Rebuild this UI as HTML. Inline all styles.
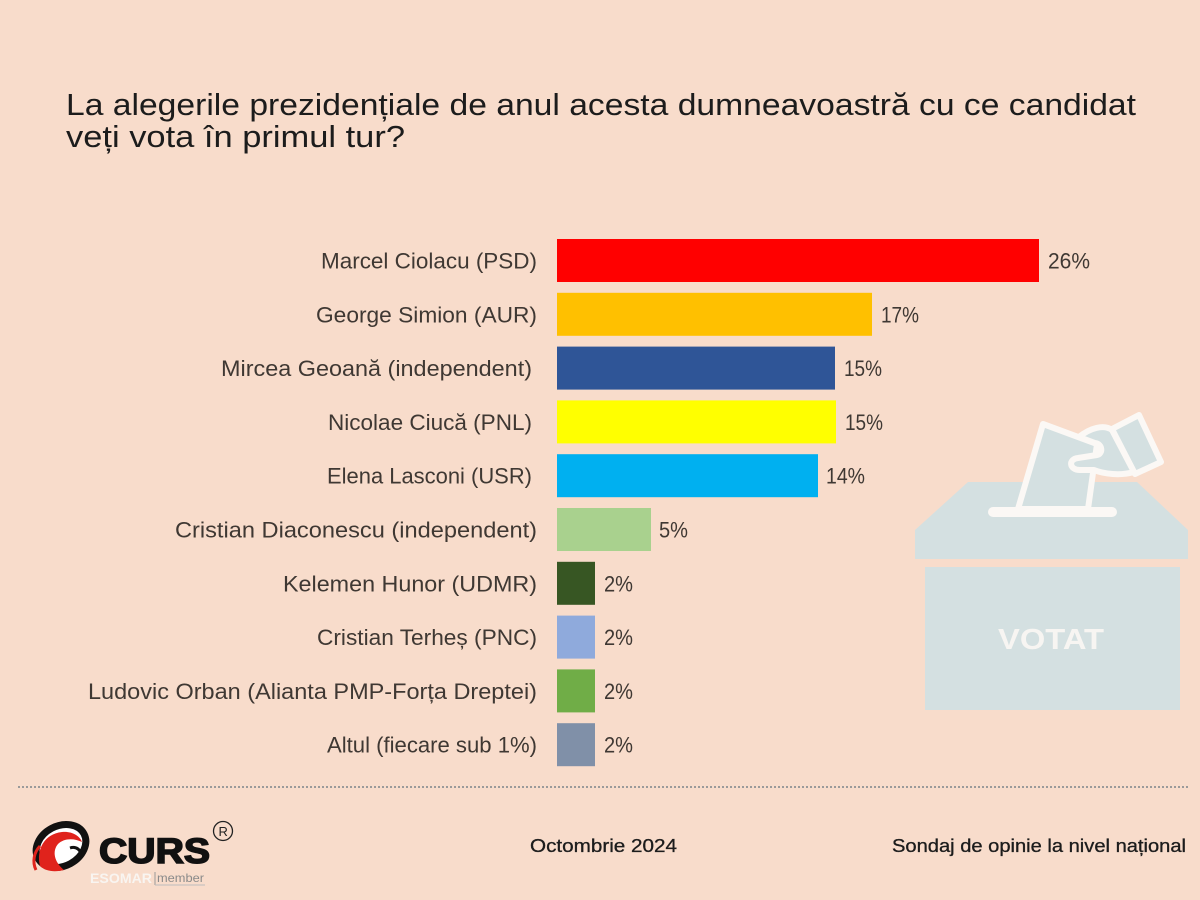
<!DOCTYPE html>
<html>
<head>
<meta charset="utf-8">
<style>
  html, body { margin: 0; padding: 0; background: #f8dccb; }
  body { width: 1200px; height: 900px; overflow: hidden; }
  svg { display: block; }
  text { font-family: "Liberation Sans", "DejaVu Sans", sans-serif; }
</style>
</head>
<body>
<svg width="1200" height="900" viewBox="0 0 1200 900" xmlns="http://www.w3.org/2000/svg">
  <rect x="0" y="0" width="1200" height="900" fill="#f8dccb"/>

  <!-- Title -->
  <text x="66" y="115" font-size="31" fill="#1c1c1c" textLength="1070" lengthAdjust="spacingAndGlyphs">La alegerile prezidențiale de anul acesta dumneavoastră cu ce candidat</text>
  <text x="66" y="147" font-size="31" fill="#1c1c1c" textLength="339" lengthAdjust="spacingAndGlyphs">veți vota în primul tur?</text>

  <!-- Ballot box illustration -->
  <g>
    <polygon points="968,482 1137,482 1188,530 1188,559 915,559 915,530" fill="#d4e0e1"/>
    <rect x="925" y="567" width="255" height="143" fill="#d4e0e1"/>
    <text x="998" y="649" font-size="29" font-weight="bold" fill="#f7f5f2" textLength="106" lengthAdjust="spacingAndGlyphs">VOTAT</text>
    <!-- paper -->
    <polygon points="1018,509 1043,424 1097,444 1088,509" fill="#d4e0e1" stroke="#fbf8f5" stroke-width="6" stroke-linejoin="round"/>
    <!-- cuff -->
    <polygon points="1112,429 1139,415 1161,462 1135,474" fill="#d4e0e1" stroke="#fbf8f5" stroke-width="6" stroke-linejoin="round"/>
    <!-- hand -->
    <path d="M1079,437 C1090,428 1104,424 1112,430 L1134,472 C1120,476 1104,474 1094,470 L1080,470 C1069,470 1068,459 1078,458 L1097,455 C1103,454 1103,444 1095,443 Z" fill="#d4e0e1" stroke="#fbf8f5" stroke-width="6" stroke-linejoin="round"/>
    <!-- slot -->
    <rect x="988" y="507" width="129" height="10" rx="5" fill="#fbf8f5"/>
  </g>

  <!-- Bars -->
  <g>
    <rect x="557" y="239" width="482" height="43" fill="#ff0000"/>
    <rect x="557" y="292.8" width="315" height="43" fill="#ffc000"/>
    <rect x="557" y="346.6" width="278" height="43" fill="#2f5597"/>
    <rect x="557" y="400.4" width="279" height="43" fill="#ffff00"/>
    <rect x="557" y="454.2" width="261" height="43" fill="#00b0f0"/>
    <rect x="557" y="508" width="94" height="43" fill="#a9d18e"/>
    <rect x="557" y="561.8" width="38" height="43" fill="#375623"/>
    <rect x="557" y="615.6" width="38" height="43" fill="#8faadc"/>
    <rect x="557" y="669.4" width="38" height="43" fill="#70ad47"/>
    <rect x="557" y="723.2" width="38" height="43" fill="#8090a8"/>
  </g>

  <!-- Category labels -->
  <g font-size="22" fill="#3f3833">
    <text x="321" y="268.5" textLength="216" lengthAdjust="spacingAndGlyphs">Marcel Ciolacu (PSD)</text>
    <text x="316" y="322.3" textLength="221" lengthAdjust="spacingAndGlyphs">George Simion (AUR)</text>
    <text x="221" y="376.1" textLength="311" lengthAdjust="spacingAndGlyphs">Mircea Geoană (independent)</text>
    <text x="328" y="429.9" textLength="204" lengthAdjust="spacingAndGlyphs">Nicolae Ciucă (PNL)</text>
    <text x="327" y="483.7" textLength="205" lengthAdjust="spacingAndGlyphs">Elena Lasconi (USR)</text>
    <text x="175" y="537.5" textLength="362" lengthAdjust="spacingAndGlyphs">Cristian Diaconescu (independent)</text>
    <text x="283" y="591.3" textLength="254" lengthAdjust="spacingAndGlyphs">Kelemen Hunor (UDMR)</text>
    <text x="317" y="645.1" textLength="220" lengthAdjust="spacingAndGlyphs">Cristian Terheș (PNC)</text>
    <text x="88" y="698.9" textLength="449" lengthAdjust="spacingAndGlyphs">Ludovic Orban (Alianta PMP-Forța Dreptei)</text>
    <text x="327" y="752.7" textLength="210" lengthAdjust="spacingAndGlyphs">Altul (fiecare sub 1%)</text>
  </g>

  <!-- Value labels -->
  <g font-size="22" fill="#3f3833">
    <text x="1048" y="268.5" textLength="42" lengthAdjust="spacingAndGlyphs">26%</text>
    <text x="881" y="322.3" textLength="38" lengthAdjust="spacingAndGlyphs">17%</text>
    <text x="844" y="376.1" textLength="38" lengthAdjust="spacingAndGlyphs">15%</text>
    <text x="845" y="429.9" textLength="38" lengthAdjust="spacingAndGlyphs">15%</text>
    <text x="826" y="483.7" textLength="39" lengthAdjust="spacingAndGlyphs">14%</text>
    <text x="659" y="537.5" textLength="29" lengthAdjust="spacingAndGlyphs">5%</text>
    <text x="604" y="591.3" textLength="29" lengthAdjust="spacingAndGlyphs">2%</text>
    <text x="604" y="645.1" textLength="29" lengthAdjust="spacingAndGlyphs">2%</text>
    <text x="604" y="698.9" textLength="29" lengthAdjust="spacingAndGlyphs">2%</text>
    <text x="604" y="752.7" textLength="29" lengthAdjust="spacingAndGlyphs">2%</text>
  </g>

  <!-- Dotted separator -->
  <line x1="18" y1="787" x2="1190" y2="787" stroke="#9a9a9a" stroke-width="2" stroke-dasharray="2 2"/>

  <!-- Logo -->
  <g>
    <ellipse cx="61" cy="846" rx="26" ry="20" transform="rotate(-28 61 846)" fill="#ffffff" stroke="#111111" stroke-width="7"/>
    <path d="M40,866 C36,850 44,834 62,832 C72,831 80,836 82,842 C74,838 64,838 58,844 C52,851 54,862 64,870 C56,872 46,872 40,866 Z" fill="#e0231c"/>
    <path d="M36,870 C32,862 34,852 40,846" fill="none" stroke="#e0231c" stroke-width="3"/>
    <path d="M70,848 C76,846 82,850 80,856" fill="none" stroke="#111" stroke-width="3"/>
    <text x="99" y="863" font-size="35" font-weight="bold" fill="#111111" stroke="#111111" stroke-width="1.6" textLength="111" lengthAdjust="spacingAndGlyphs">CURS</text>
    <circle cx="223" cy="831" r="9.5" fill="none" stroke="#222" stroke-width="1.3"/>
    <text x="218.5" y="836" font-size="13" fill="#222">R</text>
    <text x="90" y="883" font-size="14" font-weight="bold" fill="#f9f5f1" textLength="62" lengthAdjust="spacingAndGlyphs">ESOMAR</text>
    <line x1="155" y1="872" x2="155" y2="885" stroke="#9a9a9a" stroke-width="1"/>
    <line x1="155" y1="885" x2="205" y2="885" stroke="#bdbdbd" stroke-width="1"/>
    <text x="157" y="882" font-size="12" fill="#8a8a8a" textLength="47" lengthAdjust="spacingAndGlyphs">member</text>
  </g>

  <!-- Footer text -->
  <text x="530" y="852" font-size="18" fill="#1c1c1c" stroke="#1c1c1c" stroke-width="0.3" textLength="147" lengthAdjust="spacingAndGlyphs">Octombrie 2024</text>
  <text x="892" y="852" font-size="18" fill="#1c1c1c" stroke="#1c1c1c" stroke-width="0.3" textLength="294" lengthAdjust="spacingAndGlyphs">Sondaj de opinie la nivel național</text>
</svg>
</body>
</html>
